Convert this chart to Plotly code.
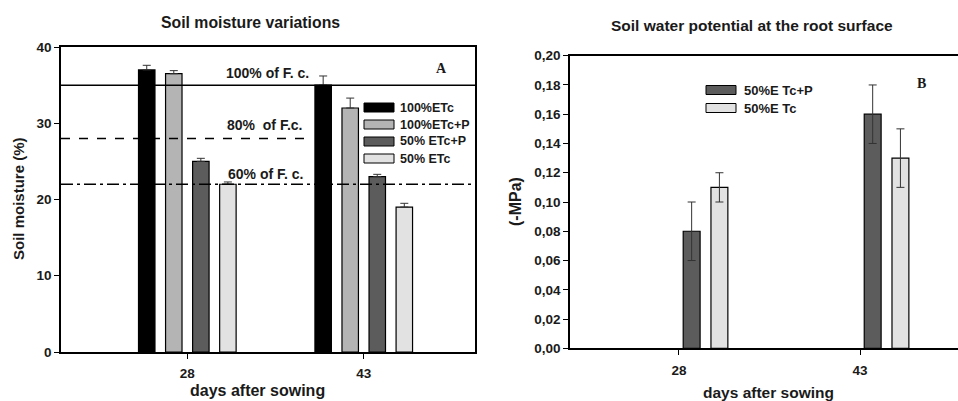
import plotly.graph_objects as go

# ---------------- data ----------------
days = [28, 43]

# Panel A: soil moisture (%)
a_names = ["100%ETc", "100%ETc+P", "50% ETc+P", "50% ETc"]
a_values = [[37.0, 35.0], [36.5, 32.0], [25.0, 23.0], [22.0, 19.0]]
a_errors = [[0.6, 1.2], [0.4, 1.3], [0.4, 0.3], [0.3, 0.5]]
a_colors = ["#000000", "#b4b4b4", "#5c5c5c", "#e2e2e2"]

fc_levels = [35, 28, 22]
fc_labels = ["100% of F. c.", "80%  of F.c.", "60% of F. c."]

# Panel B: soil water potential (-MPa)
b_names = ["50%E Tc+P", "50%E Tc"]
b_values = [[0.08, 0.16], [0.11, 0.13]]
b_errors = [[0.02, 0.02], [0.01, 0.02]]
b_colors = ["#5c5c5c", "#e2e2e2"]

a_ticks = [0, 10, 20, 30, 40]
b_ticks = [0.00, 0.02, 0.04, 0.06, 0.08, 0.10, 0.12, 0.14, 0.16, 0.18, 0.20]

# ---------------- layout helpers ----------------
W, H = 958, 401
FONT = "Liberation Sans, Arial, sans-serif"
TXT = "#1a1a1a"
SPACING = 2.3
BW = 1.4


def px(x):
    return x / W


def py(y):
    return 1 - y / H


fig = go.Figure()

# Panel A bars (slots 0..3)
for i, (n, v, e, c) in enumerate(zip(a_names, a_values, a_errors, a_colors)):
    center = (i - 1.5) * SPACING
    fig.add_trace(go.Bar(
        x=days, y=v, name=n, xaxis="x", yaxis="y",
        width=BW, offset=center - BW / 2,
        marker=dict(color=c, line=dict(color="black", width=1.2)),
        error_y=dict(type="data", array=e, arrayminus=[0] * len(e), symmetric=False,
                     color="#333333", thickness=1, width=4),
        showlegend=False,
    ))

# Panel B bars (slots 2..3)
for i, (n, v, e, c) in enumerate(zip(b_names, b_values, b_errors, b_colors)):
    center = (i + 2 - 1.5) * SPACING - 0.1
    fig.add_trace(go.Bar(
        x=days, y=v, name=n, xaxis="x2", yaxis="y2",
        width=BW, offset=center - BW / 2,
        marker=dict(color=c, line=dict(color="black", width=1.2)),
        error_y=dict(type="data", array=e, color="#333333", thickness=1, width=4),
        showlegend=False,
    ))

shapes = []
annotations = []


def text(t, x, y, size=12, family=FONT, anchor="center", angle=0):
    annotations.append(dict(text="<b>" + t + "</b>", xref="paper", yref="paper",
                            x=px(x), y=py(y), showarrow=False, xanchor=anchor,
                            yanchor="middle", textangle=angle,
                            font=dict(family=family, size=size, color=TXT)))


# F.c. reference lines
dashes = ["solid", "dash", "12px,4px,3px,4px"]
extents = [1.0, 0.606, 1.0]
for lvl, d, ext in zip(fc_levels, dashes, extents):
    shapes.append(dict(type="line", xref="x domain", yref="y", x0=0, x1=ext, y0=lvl, y1=lvl,
                       line=dict(color="black", width=1.5, dash=d)))

label_pos = [(267, 73), (264, 125), (265, 174)]
for t, (lx, ly) in zip(fc_labels, label_pos):
    text(t, lx, ly, size=14)


# custom legends
def legend(names, colors, x0, y0, dy, tx, size):
    for k, (n, c) in enumerate(zip(names, colors)):
        yc = y0 + k * dy
        shapes.append(dict(type="rect", xref="paper", yref="paper",
                           x0=px(x0), x1=px(x0 + 30), y0=py(yc - 4.5), y1=py(yc + 4.5),
                           fillcolor=c, line=dict(color="black", width=1)))
        text(n, tx, yc, size=size, anchor="left")


legend(a_names, a_colors, 364, 107.5, 17, 398, 12.5)
legend(b_names, b_colors, 706, 90, 18, 742, 13)

# panel letters
text("A", 441, 68, size=14, family="Liberation Serif, serif")
text("B", 921, 83, size=14, family="Liberation Serif, serif")

# titles
text("Soil moisture variations", 250, 23, size=15.8)
text("Soil water potential at the root surface", 752, 25, size=15.5)

# axis titles
text("days after sowing", 257, 390, size=16)
text("days after sowing", 768, 392, size=15.5)
text("Soil moisture (%)", 18, 199, size=15, angle=-90)
text("(-MPa)", 515, 202, size=16, angle=-90)

axis_common = dict(showline=True, linecolor="black", linewidth=1.5, ticks="outside",
                   ticklen=5, tickcolor="black", showgrid=False, zeroline=False,
                   automargin=False,
                   tickfont=dict(family=FONT, size=13.5, color=TXT, weight="bold"))

fig.update_layout(
    width=W, height=H,
    margin=dict(l=0, r=0, t=0, b=0, autoexpand=False),
    paper_bgcolor="white", plot_bgcolor="white",
    barmode="overlay",
    separators=",.",
    shapes=shapes, annotations=annotations,
    xaxis=dict(domain=[px(61), px(475)], range=[17.26, 52.46], tickvals=days,
               mirror=True, anchor="y", ticklabelstandoff=3, **axis_common),
    yaxis=dict(domain=[py(352), py(47)], range=[0, 40], tickvals=a_ticks, mirror=True,
               anchor="x", **axis_common),
    xaxis2=dict(domain=[px(570), 1.0], range=[18.97, 51.12], tickvals=days,
                mirror=True, anchor="y2", ticklabelstandoff=4, **axis_common),
    yaxis2=dict(domain=[py(348.3), py(55.7)], range=[0, 0.2], tickvals=b_ticks,
                tickformat=".2f", mirror=False, anchor="x2", **axis_common),
)

fig.write_html("out.html")
